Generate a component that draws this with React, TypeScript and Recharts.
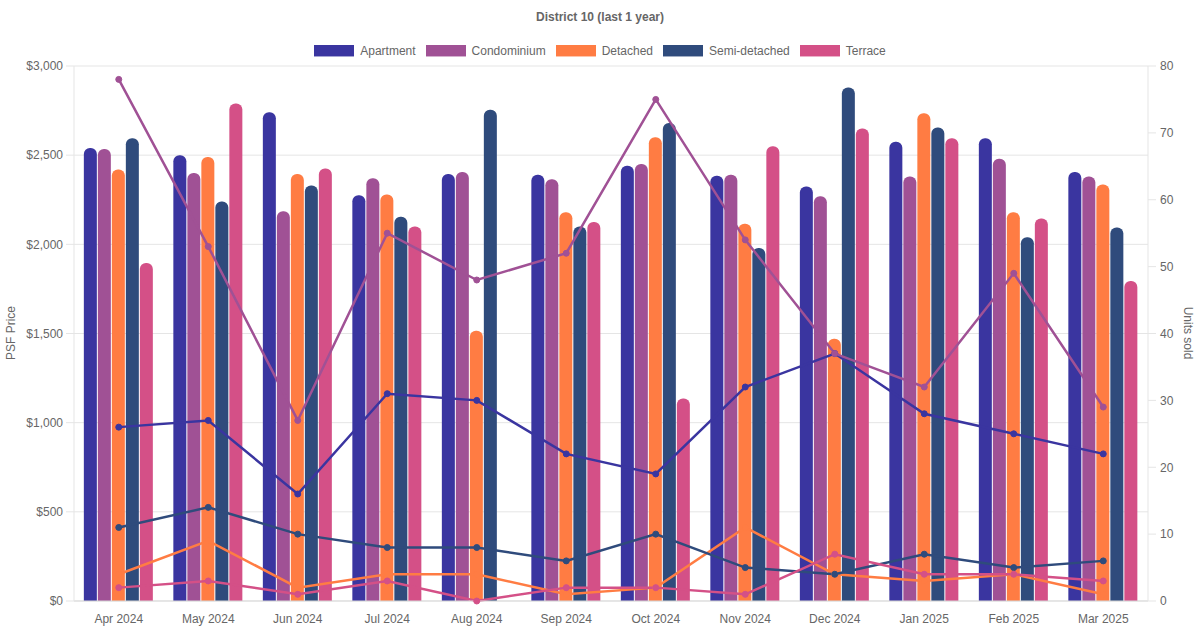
import React from "react";
import {
  ComposedChart,
  Bar,
  Line,
  XAxis,
  YAxis,
  CartesianGrid,
} from "recharts";

const months = [
  "Apr 2024", "May 2024", "Jun 2024", "Jul 2024", "Aug 2024", "Sep 2024",
  "Oct 2024", "Nov 2024", "Dec 2024", "Jan 2025", "Feb 2025", "Mar 2025",
];

// PSF price (left axis)
const apartmentPsf = [2540, 2500, 2740, 2275, 2395, 2390, 2440, 2385, 2325, 2575, 2595, 2405];
const condoPsf = [2535, 2400, 2185, 2370, 2405, 2365, 2450, 2390, 2270, 2380, 2480, 2380];
const detachedPsf = [2420, 2490, 2395, 2280, 1515, 2180, 2600, 2115, 1470, 2735, 2180, 2335];
const semiPsf = [2595, 2240, 2330, 2155, 2755, 2100, 2680, 1980, 2880, 2655, 2040, 2095];
const terracePsf = [1895, 2790, 2425, 2100, null, 2125, 1135, 2550, 2650, 2595, 2145, 1795];

// units sold (right axis)
const apartmentUnits = [26, 27, 16, 31, 30, 22, 19, 32, 37, 28, 25, 22];
const condoUnits = [78, 53, 27, 55, 48, 52, 75, 54, 37, 32, 49, 29];
const detachedUnits = [4, 9, 2, 4, 4, 1, 2, 11, 4, 3, 4, 1];
const semiUnits = [11, 14, 10, 8, 8, 6, 10, 5, 4, 7, 5, 6];
const terraceUnits = [2, 3, 1, 3, 0, 2, 2, 1, 7, 4, 4, 3];

const leftTicks = [0, 500, 1000, 1500, 2000, 2500, 3000];
const rightTicks = [0, 10, 20, 30, 40, 50, 60, 70, 80];

const series = [
  { key: "apartment", name: "Apartment", color: "#3a35a0", psf: apartmentPsf, units: apartmentUnits },
  { key: "condo", name: "Condominium", color: "#a05195", psf: condoPsf, units: condoUnits },
  { key: "detached", name: "Detached", color: "#ff7c43", psf: detachedPsf, units: detachedUnits },
  { key: "semi", name: "Semi-detached", color: "#2f4b7c", psf: semiPsf, units: semiUnits },
  { key: "terrace", name: "Terrace", color: "#d45087", psf: terracePsf, units: terraceUnits },
];

const data = months.map((month, i) => {
  const row: Record<string, string | number | null> = { month };
  series.forEach((s) => {
    row[s.key + "Psf"] = s.psf[i];
    row[s.key + "Units"] = s.units[i];
  });
  return row;
});

const font = "'Liberation Sans', Arial, sans-serif";
const textColor = "#666";
const gridColor = "#e5e5e5";

const fmtMoney = (v: number) => "$" + v.toLocaleString("en-US");

export default function App() {
  return (
    <div style={{ position: "fixed", left: 0, top: 0, width: 1200, height: 630, background: "#fff", fontFamily: font }}>
      <div
        style={{
          position: "absolute", top: 10, left: 0, width: 1200, textAlign: "center",
          fontSize: 12, fontWeight: "bold", color: textColor,
        }}
      >
        District 10 (last 1 year)
      </div>
      <div
        style={{
          position: "absolute", top: 44, left: 0, width: 1200, display: "flex",
          justifyContent: "center", alignItems: "center", fontSize: 12, color: textColor,
        }}
      >
        {series.map((s) => (
          <div key={s.key} style={{ display: "flex", alignItems: "center", margin: "0 5px" }}>
            <span
              style={{
                width: 40, height: 11, background: s.color, marginRight: 6, display: "inline-block",
                borderBottom: "1px solid rgba(255,255,255,0.55)", boxSizing: "content-box",
              }}
            />
            <span>{s.name}</span>
          </div>
        ))}
      </div>
      <div
        style={{
          position: "absolute", left: 11, top: 333, fontSize: 12, color: textColor,
          transform: "translate(-50%, -50%) rotate(-90deg)", whiteSpace: "nowrap",
        }}
      >
        PSF Price
      </div>
      <div
        style={{
          position: "absolute", left: 1188, top: 333, fontSize: 12, color: textColor,
          transform: "translate(-50%, -50%) rotate(90deg)", whiteSpace: "nowrap",
        }}
      >
        Units sold
      </div>
      <div style={{ position: "absolute", left: 0, top: 0 }}>
        <ComposedChart
          width={1200}
          height={630}
          data={data}
          margin={{ top: 66, right: 0, left: 0, bottom: 0 }}
          barCategoryGap="11%"
          barGap={1}
        >
          <CartesianGrid vertical={false} stroke={gridColor} yAxisId="psf" />
          <XAxis
            dataKey="month"
            height={29}
            tickLine={false}
            axisLine={{ stroke: "#d9d9d9" }}
            tickSize={6}
            tickMargin={7}
            tick={{ fontSize: 12, fill: textColor, fontFamily: font }}
            interval={0}
          />
          <YAxis
            yAxisId="psf"
            orientation="left"
            width={74}
            domain={[0, 3000]}
            ticks={leftTicks}
            tickFormatter={fmtMoney}
            tickSize={8}
            tickMargin={3}
            tickLine={{ stroke: gridColor }}
            axisLine={{ stroke: gridColor }}
            tick={{ fontSize: 12, fill: textColor, fontFamily: font }}
          />
          <YAxis
            yAxisId="units"
            orientation="right"
            width={52}
            domain={[0, 80]}
            ticks={rightTicks}
            tickSize={8}
            tickMargin={4}
            tickLine={{ stroke: gridColor }}
            axisLine={{ stroke: gridColor }}
            tick={{ fontSize: 12, fill: textColor, fontFamily: font }}
          />
          {series.map((s) => (
            <Bar
              key={s.key + "Bar"}
              yAxisId="psf"
              dataKey={s.key + "Psf"}
              name={s.name}
              fill={s.color}
              radius={[6, 6, 0, 0]}
              isAnimationActive={false}
            />
          ))}
          {series.map((s) => (
            <Line
              key={s.key + "Line"}
              yAxisId="units"
              dataKey={s.key + "Units"}
              name={s.name + " units"}
              stroke={s.color}
              strokeWidth={2.5}
              dot={{ r: 3, fill: s.color, stroke: s.color, strokeWidth: 1 }}
              type="linear"
              isAnimationActive={false}
            />
          ))}
        </ComposedChart>
      </div>
    </div>
  );
}
